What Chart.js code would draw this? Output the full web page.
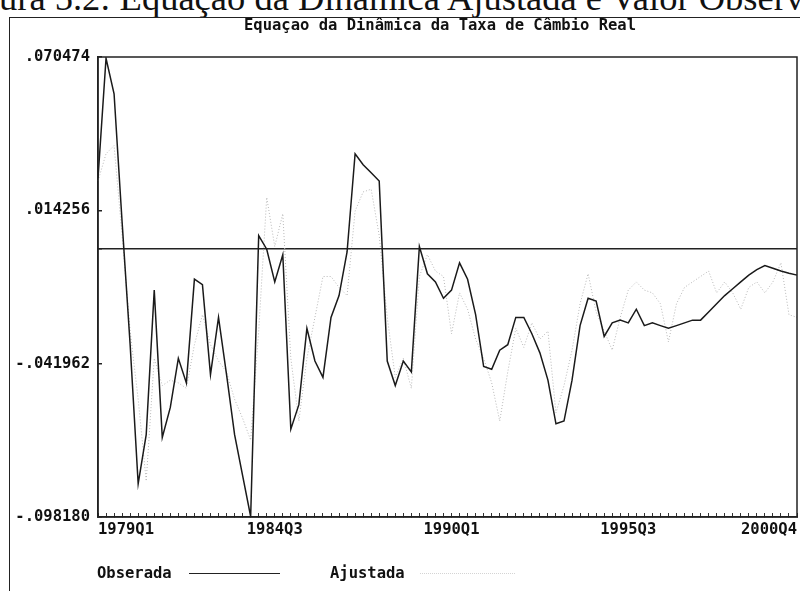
<!DOCTYPE html>
<html>
<head>
<meta charset="utf-8">
<script src="https://cdn.jsdelivr.net/npm/chart.js@4"></script>
<style>
  html, body { margin: 0; padding: 0; background: #fff; }
  body { width: 800px; height: 591px; overflow: hidden; position: relative; }
  #cap { position: absolute; left: -1px; top: -21px; font: 36.5px "Liberation Serif", serif; line-height: 37px; white-space: nowrap; color: #111; }
  #frame { position: absolute; left: 9px; top: 17px; width: 900px; height: 600px; border-left: 1.5px solid #222; border-top: 1.5px solid #222; }
  #title { position: absolute; left: 0; top: 16px; width: 880px; text-align: center; font: bold 15.5px "DejaVu Sans Mono", monospace; line-height: 19px; color: #111; white-space: nowrap; }
  canvas { position: absolute; left: 0; top: 0; }
  .lg { position: absolute; top: 564px; font: bold 15.5px "DejaVu Sans Mono", monospace; color: #111; line-height: 18px; white-space: nowrap; }
  .ln { position: absolute; top: 573px; height: 0; }
</style>
</head>
<body>
<div id="cap">ura 5.2: Equação da Dinâmica Ajustada e Valor Observado</div>
<div id="frame"></div>
<canvas id="taxa-chart" width="880" height="591"></canvas>
<div id="title">Equaçao da Dinâmica da Taxa de Câmbio Real</div>
<div class="lg" style="left:97px">Obserada</div>
<div class="ln" style="left:189px;width:91px;border-top:1px solid #222"></div>
<div class="lg" style="left:330px">Ajustada</div>
<div class="ln" style="left:420px;width:95px;border-top:1.5px dotted #d4d4d4"></div>
<script>
// quarters 1979Q1 .. 2000Q4
const quarters = [];
for (let y = 1979; y <= 2000; y++) {
    for (let q = 1; q <= 4; q++) quarters.push(y + 'Q' + q);
}

const shownLabels = ['1979Q1', '1984Q3', '1990Q1', '1995Q3', '2000Q4'];
const yTicks = [0.070474, 0.014256, -0.041962, -0.098180];

const observada = [
    0.026, 0.070, 0.057, 0.010, -0.035, -0.086, -0.068, -0.015, -0.069, -0.058,
    -0.040, -0.049, -0.011, -0.013, -0.046, -0.025, -0.046, -0.068, -0.083, -0.098,
    0.005, 0.000, -0.012, -0.002, -0.066, -0.057, -0.029, -0.041, -0.047, -0.025,
    -0.017, -0.001, 0.035, 0.031, 0.028, 0.025, -0.041, -0.050, -0.041, -0.045,
    0.001, -0.009, -0.012, -0.018, -0.015, -0.005, -0.011, -0.024, -0.043, -0.044,
    -0.037, -0.035, -0.025, -0.025, -0.031, -0.038, -0.048, -0.064, -0.063, -0.048,
    -0.028, -0.018, -0.019, -0.032, -0.027, -0.026, -0.027, -0.022, -0.028, -0.027,
    -0.028, -0.029, -0.028, -0.027, -0.026, -0.026, -0.023, -0.020, -0.017, -0.0145,
    -0.012, -0.0095, -0.0075, -0.006, -0.007, -0.008, -0.0088, -0.0095
];

const ajustada = [
    0.025, 0.035, 0.038, 0.005, -0.030, -0.055, -0.085, -0.040, -0.050, -0.048,
    -0.049, -0.051, -0.035, -0.024, -0.035, -0.041, -0.045, -0.055, -0.062, -0.070,
    -0.030, 0.019, 0.001, 0.013, -0.040, -0.063, -0.040, -0.025, -0.010, -0.010,
    -0.014, -0.017, 0.014, 0.021, 0.022, 0.005, -0.025, -0.047, -0.040, -0.051,
    -0.010, -0.002, -0.008, -0.010, -0.031, -0.016, -0.022, -0.033, -0.040, -0.049,
    -0.063, -0.045, -0.029, -0.036, -0.027, -0.033, -0.030, -0.060, -0.050, -0.037,
    -0.020, -0.009, -0.023, -0.030, -0.037, -0.025, -0.015, -0.012, -0.015, -0.016,
    -0.020, -0.034, -0.020, -0.014, -0.012, -0.010, -0.008, -0.016, -0.012, -0.016,
    -0.022, -0.014, -0.012, -0.016, -0.012, -0.005, -0.024, -0.025
];

const monoFont = { family: 'DejaVu Sans Mono', size: 15.5, weight: 'bold' };

// box round the plot area
const plotBox = {
    id: 'plotBox',
    afterDraw(chart) {
        const a = chart.chartArea, ctx = chart.ctx;
        ctx.save();
        ctx.strokeStyle = '#222';
        ctx.lineWidth = 1.5;
        ctx.strokeRect(a.left, a.top, a.right - a.left, a.bottom - a.top);
        ctx.restore();
    }
};

const data = {
    labels: quarters,
    datasets: [{
        label: 'Obserada',
        data: observada,
        borderColor: '#1a1a1a',
        borderWidth: 1.5,
        pointRadius: 0,
        tension: 0,
        fill: false
    }, {
        label: 'Ajustada',
        data: ajustada,
        borderColor: '#b8b8b8',
        borderWidth: 1,
        borderDash: [1, 2],
        pointRadius: 0,
        tension: 0,
        fill: false
    }]
};

const config = {
    type: 'line',
    data,
    plugins: [plotBox],
    options: {
        responsive: false,
        animation: false,
        layout: { padding: { left: 0, right: 83, top: 57, bottom: 0 } },
        plugins: {
            legend: { display: false },
            tooltip: { enabled: false },
            title: { display: false }
        },
        scales: {
            x: {
                type: 'category',
                grid: { drawOnChartArea: false, tickLength: -4, color: '#333' },
                border: { color: '#222', width: 1.5 },
                ticks: {
                    autoSkip: false,
                    maxRotation: 0,
                    align: 'inner',
                    padding: 8,
                    color: '#111',
                    font: monoFont,
                    callback: (v, i) => shownLabels.includes(quarters[i]) ? quarters[i] : ''
                },
                afterFit: s => { s.height = 74; }
            },
            y: {
                min: -0.098180,
                max: 0.070474,
                afterBuildTicks: s => { s.ticks = yTicks.concat([0]).map(v => ({ value: v })); },
                grid: {
                    color: ctx => (ctx.tick && ctx.tick.value === 0) ? '#222' : 'rgba(0,0,0,0)',
                    tickColor: '#222',
                    tickLength: -4,
                    lineWidth: 1.5
                },
                border: { color: '#222', width: 1.5 },
                ticks: {
                    autoSkip: false,
                    padding: 12,
                    color: '#111',
                    font: monoFont,
                    callback: v => v === 0 ? '' : v.toFixed(6).replace('0.', '.')
                },
                afterFit: s => { s.width = 98; }
            }
        }
    }
};

var taxaChart = new Chart(document.getElementById('taxa-chart'), config);
</script>
</body>
</html>
